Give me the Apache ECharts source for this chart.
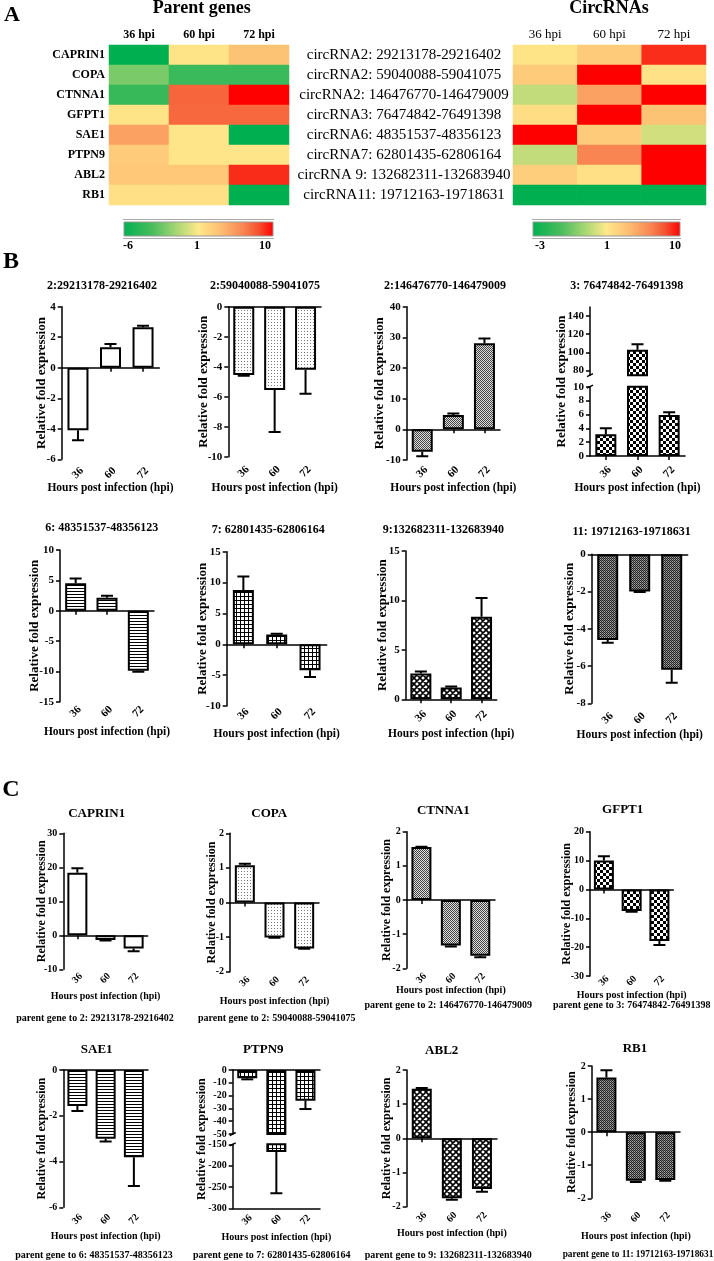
<!DOCTYPE html>
<html><head><meta charset="utf-8">
<script src="https://cdn.jsdelivr.net/npm/echarts@6/dist/echarts.min.js"></script>
<style>html,body{margin:0;padding:0;background:#fff}#c{width:714px;height:1261px}</style>
</head><body><div id="c"></div>
<script>
// ================= DATA =================
const panelLetters = ['A', 'B', 'C'];
const heatTitles = ['Parent genes', 'CircRNAs'];
const hpiLabels = ['36 hpi', '60 hpi', '72 hpi'];
const timeLabels = ['36', '60', '72'];
const parentGenes = ['CAPRIN1', 'COPA', 'CTNNA1', 'GFPT1', 'SAE1', 'PTPN9', 'ABL2', 'RB1'];
const circRNAs = ['circRNA2: 29213178-29216402', 'circRNA2: 59040088-59041075', 'circRNA2: 146476770-146479009',
  'circRNA3: 76474842-76491398', 'circRNA6: 48351537-48356123', 'circRNA7: 62801435-62806164',
  'circRNA 9: 132682311-132683940', 'circRNA11: 19712163-19718631'];
// heat values, rows x [36,60,72]
const parentHeat = [[-6, 1.3, 3.3], [-2.1, -3.9, -3.9], [-4, 7.5, 10], [1.3, 7.4, 7.4],
  [5, 1.2, -6], [2.8, 1.2, 1.2], [3, 3, 9], [1.5, 1.5, -6]];
const circHeat = [[1.3, 2.8, 9], [2.8, 10, 1.4], [0.2, 5, 10], [1.7, 10, 3.3],
  [10, 2.8, 0.4], [0.2, 6.4, 10], [2.6, 1.5, 10], [-3, -3, -3]];
const parentScale = [-6, 1, 10];
const circScale = [-3, 1, 10];

const yName = 'Relative fold expression';
const xName = 'Hours post infection (hpi)';

const bTitles = ['2:29213178-29216402', '2:59040088-59041075', '2:146476770-146479009', '3: 76474842-76491398',
  '6: 48351537-48356123', '7: 62801435-62806164', '9:132682311-132683940', '11: 19712163-19718631'];
const bValues = [[-4.1, 1.35, 2.65], [-4.55, -5.55, -4.2], [-7.3, 4.65, 28.1], [3.15, 103, 5.9],
  [4.5, 2.15, -9.9], [8.8, 1.6, -4.2], [2.6, 1.2, 8.35], [-4.6, -2.0, -6.2]];
const bErrors = [[0.65, 0.2, 0.1], [0.05, 2.8, 1.6], [1.5, 0.5, 1.5], [0.85, 6, 0.4],
  [0.8, 0.3, 0.15], [2.2, 0.1, 1.1], [0.2, 0.1, 1.9], [0.15, 0.03, 0.7]];
const bScales = [
  [{min: -6, max: 4, interval: 2}],
  [{min: -10, max: 0, interval: 2}],
  [{min: -10, max: 40, interval: 10}],
  [{min: 75, max: 150, ticks: [80, 100, 120, 140]}, {min: 0, max: 10, interval: 2}],
  [{min: -15, max: 10, interval: 5}],
  [{min: -10, max: 15, interval: 5}],
  [{min: 0, max: 15, interval: 5}],
  [{min: -8, max: 0, interval: 2}]
];

const cTitles = ['CAPRIN1', 'COPA', 'CTNNA1', 'GFPT1', 'SAE1', 'PTPN9', 'ABL2', 'RB1'];
const cSubtitles = ['parent gene to 2: 29213178-29216402', 'parent gene to 2: 59040088-59041075',
  'parent gene to 2: 146476770-146479009', 'parent gene to 3: 76474842-76491398',
  'parent gene to 6: 48351537-48356123', 'parent gene to 7: 62801435-62806164',
  'parent gene to 9: 132682311-132683940', 'parent gene to 11: 19712163-19718631'];
const cValues = [[18.4, -1.35, -3.9], [1.08, -1.01, -1.33], [1.55, -1.33, -1.63], [10, -7.5, -17.9],
  [-1.57, -3.0, -3.81], [-6.5, -168, -24], [1.45, -1.75, -1.48], [1.65, -1.47, -1.45]];
const cErrors = [[1.3, 0.2, 0.8], [0.04, 0.01, 0.01], [0.01, 0.03, 0.05], [1.5, 0.2, 1.4],
  [0.22, 0.12, 1.26], [0.8, 97, 6.5], [0.02, 0.05, 0.08], [0.22, 0.04, 0.02]];
const cScales = [
  [{min: -10, max: 30, interval: 10}],
  [{min: -2, max: 2, interval: 1}],
  [{min: -2, max: 2, interval: 1}],
  [{min: -30, max: 20, interval: 10}],
  [{min: -6, max: 0, interval: 2}],
  [{min: -50, max: 0, interval: 10}, {min: -300, max: -150, interval: 50}],
  [{min: -2, max: 2, interval: 1}],
  [{min: -2, max: 2, interval: 1}]
];

// ================= LAYOUT / STYLE =================
const FONT = '"Liberation Serif", "Times New Roman", serif';
const letterPos = [[12, 15.5, 22], [11, 262, 24], [11, 790, 24]];
const heatTitlePos = [[201.7, 8.5], [609, 8.5]];
const LH = {left: 109, top: 45, width: 180, height: 160, xm: 4, ym: 4, cbX: 124, cbY: 222, cbW: 149, cbH: 14, cbLabelX: [128, 197, 265], cbLabelY: 246};
const RH = {left: 513, top: 45, width: 193, height: 160, xm: 3.5, ym: 109, cbX: 533, cbY: 222, cbW: 147, cbH: 14, cbLabelX: [540, 607, 675], cbLabelY: 246};
const heatAnchors = [[0, '#00b050'], [0.2, '#4dbd5e'], [0.35, '#a5d673'], [0.5, '#ffe88a'],
  [0.65, '#fdbd72'], [0.8, '#f98552'], [0.9, '#f5502f'], [1, '#ff0000']];

const bLayout = [
  {x0: 61.7, x1: 159.3, segs: [[306.7, 459.3]], title: [102, 285.7], lm: 13.7, nameY: 487.5, yNameX: 41.7},
  {x0: 228.3, x1: 321, segs: [[306.7, 456.7]], title: [265, 285.7], lm: 15, nameY: 487.5, yNameX: 204},
  {x0: 406.7, x1: 500, segs: [[306.7, 460]], title: [445, 285.7], lm: 12, nameY: 488, yNameX: 379.3},
  {x0: 590, x1: 685, segs: [[306.9, 375.2], [386.7, 456]], title: [626.7, 285.7], lm: 16, nameY: 488, yNameX: 561.7},
  {x0: 60, x1: 154, segs: [[550, 701.7]], title: [101.7, 528.3], lm: 10, nameY: 731.7, yNameX: 35},
  {x0: 226.7, x1: 326.7, segs: [[551.7, 706]], title: [268.3, 530], lm: 8, nameY: 733.3, yNameX: 202.3},
  {x0: 405.7, x1: 496.7, segs: [[551, 699.3]], title: [443.3, 530], lm: 17, nameY: 733.3, yNameX: 382.7},
  {x0: 591.7, x1: 687.7, segs: [[554.3, 703.3]], title: [631.7, 531.7], lm: 15, nameY: 735, yNameX: 569.3}
];
const cLayout = [
  {x0: 63.3, x1: 147.7, segs: [[833.3, 969.3]], title: [96.7, 813.3], lm: 9, nameY: 996.7, yNameX: 41.7, sub: [95, 1018.3]},
  {x0: 230, x1: 319, segs: [[833.3, 971.7]], title: [269.3, 813.3], lm: 10, nameY: 1001.7, yNameX: 212.3, sub: [276.7, 1018.3]},
  {x0: 406.7, x1: 495, segs: [[831.7, 968.3]], title: [443.3, 811], lm: 10, nameY: 990, yNameX: 387.3, sub: [448.3, 1005]},
  {x0: 590, x1: 673.3, segs: [[831.7, 976]], title: [622.7, 810], lm: 5, nameY: 995, yNameX: 566.7, sub: [631.7, 1005]},
  {x0: 63.3, x1: 148, segs: [[1070, 1207.3]], title: [96.7, 1050], lm: 12, nameY: 1236.7, yNameX: 41.7, sub: [94, 1255]},
  {x0: 232.7, x1: 320, segs: [[1070, 1134], [1144.3, 1208.3]], title: [263.3, 1050], lm: 11.7, nameY: 1237.7, yNameX: 201.7, sub: [271.7, 1255], bottomLine: true},
  {x0: 406.7, x1: 497, segs: [[1070, 1206.7]], title: [441.7, 1051], lm: 10.6, nameY: 1233.3, yNameX: 387.3, sub: [448.3, 1255]},
  {x0: 591.7, x1: 680, segs: [[1066, 1198.3]], title: [635, 1048.3], lm: 19, nameY: 1236, yNameX: 572.3, sub: [638, 1255], subSize: 9.3}
];
const FB = {title: 12, tick: 11, xname: 11.5, yname: 13, barW: 21};
const FC = {title: 13, tick: 10, xname: 10, yname: 12, barW: 20, sub: 10};

// ---- patterns ----
function tile(w, h, draw) {
  const c = document.createElement('canvas'); c.width = w; c.height = h;
  const g = c.getContext('2d'); g.fillStyle = '#fff'; g.fillRect(0, 0, w, h); g.fillStyle = '#000';
  draw(g); return {image: c, repeat: 'repeat'};
}
const patterns = [
  '#ffffff',
  tile(3, 3, g => { g.fillStyle = '#777'; g.fillRect(1, 1, 1, 1); }),
  tile(2, 2, g => { g.fillStyle = '#444'; g.fillRect(0, 0, 1, 1); g.fillRect(1, 1, 1, 1); g.fillStyle = '#ddd'; g.fillRect(1, 0, 1, 1); g.fillRect(0, 1, 1, 1); }),
  tile(6, 6, g => { g.fillRect(0, 0, 3, 3); g.fillRect(3, 3, 3, 3); }),
  tile(1, 3, g => { g.fillRect(0, 0, 1, 1); }),
  tile(4, 4, g => { g.fillRect(0, 0, 4, 1); g.fillRect(0, 0, 1, 4); }),
  tile(6, 6, g => {
    g.strokeStyle = '#000'; g.lineWidth = 1.6; g.beginPath();
    [-6, 0, 6].forEach(c => { g.moveTo(c, 0); g.lineTo(c + 6, 6); });
    [0, 6, 12].forEach(c => { g.moveTo(c, 0); g.lineTo(c - 6, 6); });
    g.stroke();
  }),
  tile(2, 2, g => { g.fillStyle = '#222'; g.fillRect(0, 0, 1, 1); g.fillRect(1, 1, 1, 1); g.fillStyle = '#777'; g.fillRect(1, 0, 1, 1); g.fillStyle = '#aaa'; g.fillRect(0, 1, 1, 1); })
];

// ================= BUILD =================
function hex(c) { return [1, 3, 5].map(i => parseInt(c.substr(i, 2), 16)); }
function lerpColor(t) {
  for (let k = 1; k < heatAnchors.length; k++) {
    if (t <= heatAnchors[k][0] + 1e-9) {
      const [o0, c0] = heatAnchors[k - 1], [o1, c1] = heatAnchors[k];
      const f = (t - o0) / (o1 - o0), a = hex(c0), b = hex(c1);
      return 'rgb(' + a.map((v, i) => Math.round(v + (b[i] - v) * f)).join(',') + ')';
    }
  }
  return heatAnchors[heatAnchors.length - 1][1];
}
function stopsFor(min, mid, max) {
  const out = [], n = 96;
  for (let k = 0; k <= n; k++) {
    const v = min + (max - min) * k / n;
    const t = v <= mid ? 0.5 * (v - min) / (mid - min) : 0.5 + 0.5 * (v - mid) / (max - mid);
    out.push(lerpColor(Math.max(0, Math.min(1, t))));
  }
  return out;
}

const grids = [], xAxes = [], yAxes = [], series = [], visualMaps = [], graphics = [];
function text(x, y, str, size, bold, extra) {
  graphics.push(Object.assign({type: 'text', x: x, y: y, silent: true, z: 10,
    style: {text: str, font: (bold ? 'bold ' : '') + size + 'px ' + FONT, fill: '#000',
      textAlign: 'center', textVerticalAlign: 'middle', align: 'center', verticalAlign: 'middle'}}, extra || {}));
}

panelLetters.forEach((l, i) => text(letterPos[i][0], letterPos[i][1], l, letterPos[i][2], true));
heatTitles.forEach((t, i) => text(heatTitlePos[i][0], heatTitlePos[i][1], t, 18, true));

function addHeat(L, rows, values, scale, xLab, yLab) {
  const gi = grids.length;
  grids.push({left: L.left, top: L.top, width: L.width, height: L.height, containLabel: false});
  xAxes.push({gridIndex: gi, type: 'category', data: hpiLabels, position: 'top',
    axisLine: {show: false}, axisTick: {show: false}, splitLine: {show: false},
    axisLabel: Object.assign({margin: L.xm, color: '#000', fontFamily: FONT, interval: 0}, xLab)});
  yAxes.push({gridIndex: gi, type: 'category', data: rows, inverse: true,
    axisLine: {show: false}, axisTick: {show: false}, splitLine: {show: false},
    axisLabel: Object.assign({margin: L.ym, color: '#000', fontFamily: FONT, interval: 0}, yLab)});
  const data = [];
  values.forEach((r, ri) => r.forEach((v, ci) => data.push([ci, ri, v])));
  const si = series.length;
  series.push({type: 'heatmap', xAxisIndex: xAxes.length - 1, yAxisIndex: yAxes.length - 1, data: data,
    itemStyle: {borderWidth: 0}, emphasis: {disabled: true}, silent: true, progressive: 0});
  visualMaps.push({show: false, type: 'continuous', seriesIndex: si, dimension: 2,
    min: scale[0], max: scale[2], inRange: {color: stopsFor(scale[0], scale[1], scale[2])}});
  graphics.push({type: 'rect', silent: true, shape: {x: L.cbX, y: L.cbY, width: L.cbW, height: L.cbH},
    style: {fill: {type: 'linear', x: 0, y: 0, x2: 1, y2: 0, colorStops: heatAnchors.map(a => ({offset: a[0], color: a[1]}))},
      stroke: '#999', lineWidth: 1}});
  graphics.push({type: 'line', silent: true, shape: {x1: L.cbX - 1, y1: L.cbY - 2.5, x2: L.cbX + L.cbW + 1, y2: L.cbY - 2.5},
    style: {stroke: '#aaa', lineWidth: 1}});
  graphics.push({type: 'line', silent: true, shape: {x1: L.cbX - 1, y1: L.cbY + L.cbH + 2.5, x2: L.cbX + L.cbW + 1, y2: L.cbY + L.cbH + 2.5},
    style: {stroke: '#aaa', lineWidth: 1}});
  scale.forEach((v, i) => text(L.cbLabelX[i], L.cbLabelY, String(v), 12, true));
}
addHeat(LH, parentGenes, parentHeat, parentScale, {fontSize: 12, fontWeight: 'bold'}, {fontSize: 12, fontWeight: 'bold'});
addHeat(RH, circRNAs, circHeat, circScale, {fontSize: 13}, {fontSize: 15, align: 'center'});

const axLine = {color: '#000', width: 1.5};
function errRender(params, api) {
  const i = api.value(0), v = api.value(1), e = api.value(2);
  const s = v >= 0 ? 1 : -1;
  const p0 = api.coord([i, v]), p1 = api.coord([i, v + s * e]);
  return {type: 'group', children: [
    {type: 'line', shape: {x1: p0[0], y1: p0[1], x2: p1[0], y2: p1[1]}, style: {stroke: '#000', lineWidth: 2}},
    {type: 'line', shape: {x1: p1[0] - 6, y1: p1[1], x2: p1[0] + 6, y2: p1[1]}, style: {stroke: '#000', lineWidth: 2}}
  ]};
}

function addBar(L, title, sub, vals, errs, segsSpec, pattern, F) {
  text(L.title[0], L.title[1], title, F.title, true);
  if (sub) text(L.sub[0], L.sub[1], sub, L.subSize || F.sub, true);
  segsSpec.forEach((seg, si) => {
    const top = L.segs[si][0], bottom = L.segs[si][1];
    const gi = grids.length;
    grids.push({left: L.x0, top: top, width: L.x1 - L.x0, height: bottom - top, containLabel: false});
    const hasZero = seg.min <= 0 && seg.max >= 0;
    const isLast = si === segsSpec.length - 1;
    const xi = xAxes.length;
    xAxes.push({gridIndex: gi, type: 'category', data: timeLabels, position: 'bottom',
      axisLine: {show: hasZero, onZero: true, lineStyle: axLine},
      axisTick: {show: hasZero, alignWithLabel: true, length: 4, lineStyle: axLine},
      axisLabel: {show: false}, splitLine: {show: false}});
    if (isLast) {
      xAxes.push({gridIndex: gi, type: 'category', data: timeLabels, position: 'bottom',
        axisLine: {show: !!L.bottomLine, onZero: false, lineStyle: axLine}, axisTick: {show: false},
        axisLabel: {show: true, interval: 0, rotate: 45, align: 'center', verticalAlign: 'middle', margin: L.lm,
          fontSize: F.tick, fontWeight: 'bold', fontFamily: FONT, color: '#000'},
        splitLine: {show: false},
        name: xName, nameLocation: 'middle', nameGap: L.nameY - bottom - F.xname / 2, nameMoveOverlap: false,
        nameTextStyle: {fontSize: F.xname, fontWeight: 'bold', fontFamily: FONT, color: '#000'}});
    }
    const yi = yAxes.length;
    const y = {gridIndex: gi, type: 'value', min: seg.min, max: seg.max,
      axisLine: {show: true, onZero: false, lineStyle: axLine},
      axisTick: {show: true, length: 4, lineStyle: axLine},
      axisLabel: {margin: 6, fontSize: F.tick, fontWeight: 'bold', fontFamily: FONT, color: '#000', showMinLabel: true, showMaxLabel: true},
      splitLine: {show: false}};
    if (seg.ticks) { y.axisLabel.customValues = seg.ticks; y.axisTick.customValues = seg.ticks; }
    else y.interval = seg.interval;
    if (segsSpec.length === 1) {
      Object.assign(y, {name: yName, nameLocation: 'middle', nameGap: L.x0 - L.yNameX - F.yname / 2, nameMoveOverlap: false,
        nameTextStyle: {fontSize: F.yname, fontWeight: 'bold', fontFamily: FONT, color: '#000'}});
    }
    yAxes.push(y);
    series.push({type: 'bar', xAxisIndex: xi, yAxisIndex: yi, data: vals, barWidth: F.barW, clip: true,
      itemStyle: {color: pattern, borderColor: '#000', borderWidth: 2}, emphasis: {disabled: true}, silent: true, z: 2});
    const ed = vals.map((v, i) => [i, v, errs[i]]).filter(d => d[1] >= seg.min && d[1] <= seg.max);
    series.push({type: 'custom', xAxisIndex: xi, yAxisIndex: yi, clip: true, data: ed,
      encode: {x: 0, y: 1}, renderItem: errRender, z: 3, silent: true});
  });
  if (segsSpec.length > 1) {
    const cy = (L.segs[0][0] + L.segs[L.segs.length - 1][1]) / 2;
    text(L.yNameX, cy, yName, F.yname, true, {rotation: Math.PI / 2});
    // small break marks on the y axis at the gap
    for (let k = 0; k < L.segs.length - 1; k++) {
      const yA = L.segs[k][1], yB = L.segs[k + 1][0];
      [yA, yB].forEach(yy => graphics.push({type: 'line', silent: true,
        shape: {x1: L.x0 - 3, y1: yy + 1.5, x2: L.x0 + 3, y2: yy - 1.5}, style: {stroke: '#000', lineWidth: 1.5}}));
    }
  }
}

bTitles.forEach((t, i) => addBar(bLayout[i], t, null, bValues[i], bErrors[i], bScales[i], patterns[i], FB));
cTitles.forEach((t, i) => addBar(cLayout[i], t, cSubtitles[i], cValues[i], cErrors[i], cScales[i], patterns[i], FC));

const chart = echarts.init(document.getElementById('c'), null, {renderer: 'canvas', width: 714, height: 1261});
chart.setOption({
  animation: false,
  backgroundColor: '#fff',
  textStyle: {fontFamily: FONT},
  grid: grids, xAxis: xAxes, yAxis: yAxes, series: series, visualMap: visualMaps,
  graphic: {elements: graphics}
});
</script>
</body></html>
